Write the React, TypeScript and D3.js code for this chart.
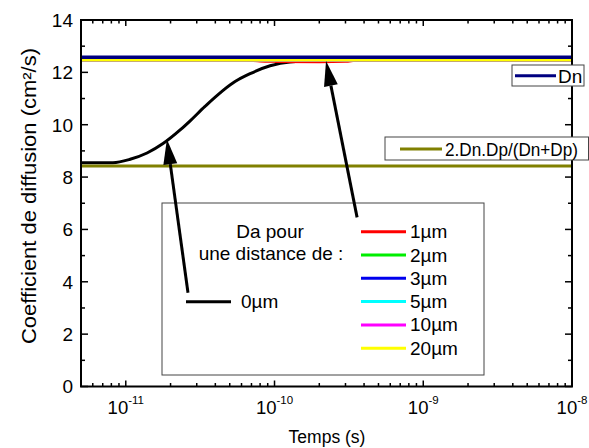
import React from "react";
import * as d3 from "d3";

// ---- data ----
const blackT = [5e-12, 8.2e-12, 1.07e-11, 1.39e-11, 1.78e-11, 2.32e-11, 2.71e-11, 3.41e-11, 5.43e-11, 6.85e-11, 9.34e-11, 1.27e-10, 2.02e-10, 1e-8];
const blackV = [8.55, 8.55, 8.68, 8.92, 9.28, 9.8, 10.15, 10.7, 11.65, 11.95, 12.25, 12.4, 12.45, 12.46];
const redT = [5e-12, 6.5e-11, 8e-11, 1e-10, 2e-10, 3e-10, 3.6e-10, 1e-8];
const redV = [12.46, 12.46, 12.42, 12.41, 12.40, 12.41, 12.46, 12.46];
const flatT = [5e-12, 1e-8];
const da2V = [12.46, 12.46];
const da3V = [12.46, 12.46];
const da5V = [12.46, 12.46];
const da10V = [12.46, 12.46];
const da20V = [12.46, 12.46];
const dnV = [12.58, 12.58];
const ambV = [8.42, 8.42];
const yMajor = [0, 2, 4, 6, 8, 10, 12, 14];
const xMajorExp = [-11, -10, -9, -8];
const legendLabels = ["1µm", "2µm", "3µm", "5µm", "10µm", "20µm"];
const legendColors = ["#ff0000", "#00ee00", "#0000ee", "#00ffff", "#ff00ff", "#ffff00"];
// arrows in data coords: [tailT, tailV, tipT, tipV]
const arrows = [
  [2.62e-11, 3.58, 1.89e-11, 9.44],
  [3.59e-10, 6.46, 2.22e-10, 12.43],
];

const W = 589, H = 448;
const L = 81, R = 572, T = 20, B = 386.5;
const FONT = "Liberation Sans, Arial, sans-serif";

export default function App() {
  const x = d3.scaleLog().domain([5e-12, 1e-8]).range([L, R]);
  const y = d3.scaleLinear().domain([0, 14]).range([B, T]);
  const line = (ts: number[], vs: number[], curve = d3.curveLinear) =>
    d3.line<number>().x((_, i) => x(ts[i])).y((v) => y(v)).curve(curve)(vs) || "";

  const xMinor: number[] = [];
  for (let e = -12; e <= -9; e++) for (let k = 2; k <= 9; k++) {
    const v = k * Math.pow(10, e);
    if (v > 5e-12 && v < 1e-8) xMinor.push(v);
  }
  const yMinor = d3.range(1, 14, 2);

  const da = [
    { t: redT, v: redV, c: legendColors[0] },
    { t: flatT, v: da2V, c: legendColors[1] },
    { t: flatT, v: da3V, c: legendColors[2] },
    { t: flatT, v: da5V, c: legendColors[3] },
    { t: flatT, v: da10V, c: legendColors[4] },
    { t: flatT, v: da20V, c: legendColors[5] },
  ];

  const arrowEls = arrows.map((a, i) => {
    const x1 = x(a[0]), y1 = y(a[1]), x2 = x(a[2]), y2 = y(a[3]);
    const ang = Math.atan2(y2 - y1, x2 - x1);
    const hl = 25, hw = 7;
    const bx = x2 - hl * Math.cos(ang), by = y2 - hl * Math.sin(ang);
    const px = -Math.sin(ang) * hw, py = Math.cos(ang) * hw;
    return (
      <g key={i}>
        <line x1={x1} y1={y1} x2={bx} y2={by} stroke="#000" strokeWidth={3} />
        <polygon points={`${x2},${y2} ${bx + px},${by + py} ${bx - px},${by - py}`} fill="#000" />
      </g>
    );
  });

  return (
    <svg width={W} height={H} style={{ position: "absolute", left: 0, top: 0 }} fontFamily={FONT}>
      <rect width={W} height={H} fill="#fff" />
      <defs>
        <clipPath id="plot"><rect x={L} y={T} width={R - L} height={B - T} /></clipPath>
      </defs>
      <g clipPath="url(#plot)">
        <path d={line(blackT, blackV, d3.curveMonotoneX)} fill="none" stroke="#000" strokeWidth={3} />
        {da.map((s, i) => (
          <path key={i} d={line(s.t, s.v, d3.curveMonotoneX)} fill="none" stroke={s.c} strokeWidth={2.5} />
        ))}
        <path d={line(flatT, dnV)} fill="none" stroke="#000080" strokeWidth={3.5} />
        <path d={line(flatT, ambV)} fill="none" stroke="#808000" strokeWidth={3} />
      </g>

      {/* frame */}
      <rect x={L} y={T} width={R - L} height={B - T} fill="none" stroke="#000" strokeWidth={2} />
      {/* y ticks */}
      {yMajor.map((v) => (
        <g key={"ym" + v}>
          <line x1={L} x2={L + 7} y1={y(v)} y2={y(v)} stroke="#000" strokeWidth={1.5} />
          <line x1={R} x2={R - 7} y1={y(v)} y2={y(v)} stroke="#000" strokeWidth={1.5} />
          <text x={L - 8} y={y(v) + 6.8} textAnchor="end" fontSize={19}>{v}</text>
        </g>
      ))}
      {yMinor.map((v) => (
        <g key={"yn" + v}>
          <line x1={L} x2={L + 4} y1={y(v)} y2={y(v)} stroke="#000" strokeWidth={1.5} />
          <line x1={R} x2={R - 4} y1={y(v)} y2={y(v)} stroke="#000" strokeWidth={1.5} />
        </g>
      ))}
      {/* x ticks */}
      {xMajorExp.map((e) => {
        const px = x(Math.pow(10, e));
        return (
          <g key={"xm" + e}>
            <line x1={px} x2={px} y1={B} y2={B - 6} stroke="#000" strokeWidth={1.5} />
            <line x1={px} x2={px} y1={T} y2={T + 6} stroke="#000" strokeWidth={1.5} />
            <text x={px} y={414} textAnchor="middle" fontSize={18.5}>
              10<tspan dy={-10} fontSize={11.5}>{String(e)}</tspan>
            </text>
          </g>
        );
      })}
      {xMinor.map((v, i) => (
        <g key={"xn" + i}>
          <line x1={x(v)} x2={x(v)} y1={B} y2={B - 3.5} stroke="#000" strokeWidth={1.5} />
          <line x1={x(v)} x2={x(v)} y1={T} y2={T + 3.5} stroke="#000" strokeWidth={1.5} />
        </g>
      ))}

      {/* axis titles */}
      <text x={327} y={443} textAnchor="middle" fontSize={17.5}>Temps (s)</text>
      <text transform="translate(36,196) rotate(-90)" textAnchor="middle" fontSize={19.5}
        textLength={296} lengthAdjust="spacingAndGlyphs">
        Coefficient de diffusion (cm²/s)
      </text>

      {/* Dn legend */}
      <rect x={512} y={65} width={72} height={21} fill="#fff" stroke="#444" strokeWidth={1} />
      <line x1={515} x2={556} y1={75.7} y2={75.7} stroke="#000080" strokeWidth={3} />
      <text x={558} y={82.5} fontSize={19}>Dn</text>

      {/* ambipolar legend */}
      <rect x={385} y={137} width={203.5} height={23} fill="#fff" stroke="#444" strokeWidth={1} />
      <line x1={400} x2={442} y1={149} y2={149} stroke="#808000" strokeWidth={3} />
      <text x={445} y={156} fontSize={18.5} textLength={133} lengthAdjust="spacingAndGlyphs">2.Dn.Dp/(Dn+Dp)</text>

      {/* big legend */}
      <rect x={162} y={203} width={322} height={172} fill="#fff" stroke="#444" strokeWidth={1} />
      <text x={270} y={237.5} textAnchor="middle" fontSize={19}>Da pour</text>
      <text x={271} y={259.5} textAnchor="middle" fontSize={19}>une distance de :</text>
      {legendLabels.map((lab, i) => {
        const ly = 231.7 + i * 23.3;
        return (
          <g key={lab}>
            <line x1={361} x2={406} y1={ly} y2={ly} stroke={legendColors[i]} strokeWidth={3} />
            <text x={410} y={ly + 6.5} fontSize={19}>{lab}</text>
          </g>
        );
      })}
      <line x1={186} x2={231} y1={301.7} y2={301.7} stroke="#000" strokeWidth={3} />
      <text x={241} y={308} fontSize={19}>0µm</text>

      {arrowEls}
    </svg>
  );
}
